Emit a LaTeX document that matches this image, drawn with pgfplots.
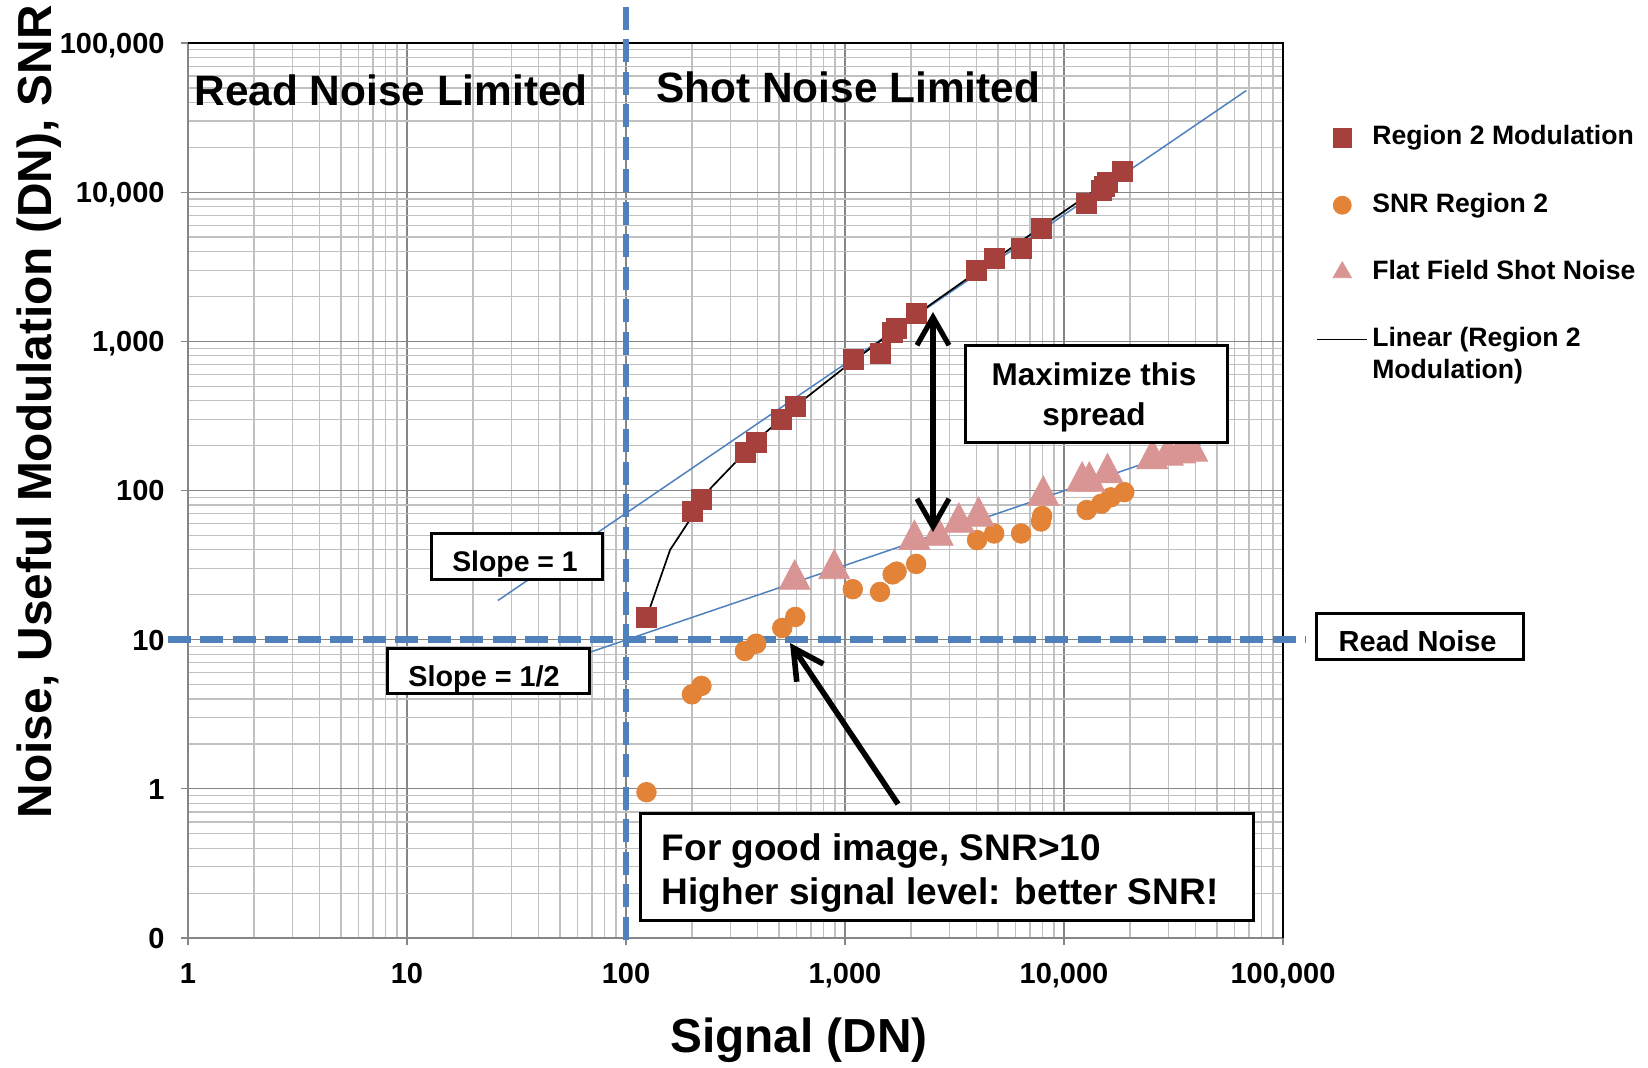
\documentclass[border=0pt]{standalone}
\usepackage{fontspec}
\setmainfont{Liberation Sans}
\usepackage{pgfplots}
\pgfplotsset{compat=1.18}
\usetikzlibrary{arrows.meta}

\definecolor{redsq}{RGB}{166,64,61}
\definecolor{orng}{RGB}{226,131,56}
\definecolor{tri}{RGB}{217,149,148}
\definecolor{xlblue}{RGB}{79,129,189}
\definecolor{gridmin}{RGB}{192,192,192}
\definecolor{gridmaj}{RGB}{134,134,134}
\definecolor{axgray}{RGB}{134,134,134}

\begin{document}
\begin{tikzpicture}
\begin{axis}[
    xmode=log, ymode=log,
    scale only axis,
    width=547.5pt, height=447.5pt,
    xmin=1, xmax=100000, ymin=0.1, ymax=100000,
    xtick={1,10,100,1000,10000,100000},
    xticklabels={1,10,100,{1,000},{10,000},{100,000}},
    ytick={0.1,1,10,100,1000,10000,100000},
    yticklabels={0,1,10,100,{1,000},{10,000},{100,000}},
    minor xtick={2,3,4,5,6,7,8,9,20,30,40,50,60,70,80,90,200,300,400,500,600,700,800,900,2000,3000,4000,5000,6000,7000,8000,9000,20000,30000,40000,50000,60000,70000,80000,90000},
    minor ytick={0.2,0.3,0.4,0.5,0.6,0.7,0.8,0.9,2,3,4,5,6,7,8,9,20,30,40,50,60,70,80,90,200,300,400,500,600,700,800,900,2000,3000,4000,5000,6000,7000,8000,9000,20000,30000,40000,50000,60000,70000,80000,90000},
    grid=both,
    major grid style={draw=gridmaj, line width=0.6pt},
    minor grid style={draw=gridmin, line width=0.6pt},
    axis line style={draw=axgray, line width=1.3pt},
    tick align=outside,
    major tick length=3.75pt, minor tick length=0pt,
    xtick pos=bottom, ytick pos=left,
    tick style={draw=axgray, line width=0.6pt},
    /pgf/number format/assume math mode=true,
    tick label style={font=\fontsize{14.5}{16}\selectfont\bfseries, inner sep=0pt},
    xticklabel style={anchor=base, yshift=-18.9pt},
    yticklabel style={anchor=base east, xshift=-7.75pt, yshift=-5.2pt},
    xlabel={Signal (DN)},
    ylabel={Noise, Useful Modulation (DN), SNR},
    label style={font=\fontsize{23.9}{26}\selectfont\bfseries, inner sep=0pt},
    xlabel style={at={(axis description cs:0.558,-0.128)}, anchor=base},
    ylabel style={at={(axis description cs:-0.1242,0.588)}, anchor=base},
    clip=false,
    legend cell align=left,
    legend image code/.code={\draw[mark repeat=2,mark phase=2,#1] plot coordinates {(0pt,0pt) (12.5pt,0pt) (25pt,0pt)};},
    legend style={draw=none, fill=none, at={(0,1)}, anchor=north west,
        xshift=561pt, yshift=-39.3pt,
        font=\fontsize{13.3}{14.2}\selectfont\bfseries,
        inner xsep=3pt, inner ysep=2pt,
        nodes={inner sep=2pt, text height=0.75em, text depth=0.05em},
        row sep=21.6pt, /tikz/column sep=0.1pt},
]
\coordinate (axTL) at (rel axis cs:0,1);

% Region 2 Modulation
\addplot[forget plot, only marks, mark=square*, mark size=5pt,
    mark options={fill=redsq, draw=redsq}] coordinates {
(124,14.2) (200,73) (221,87) (350,180) (392,211) (515,300) (593,365)
(1090,760) (1448,830) (1650,1140) (1710,1220) (2115,1535) (4000,3000)
(4810,3600) (6380,4200) (7850,5700) (12680,8450) (14800,10200)
(15300,10900) (15800,11700) (18400,13700)
};

% SNR Region 2
\addplot[forget plot, only marks, mark=*, mark size=4.9pt,
    mark options={fill=orng, draw=orng}] coordinates {
(124,0.95) (200,4.3) (221,4.9) (349,8.4) (393,9.4) (517,12.0) (593,14.2)
(1085,21.8) (1445,20.9) (1650,27.4) (1720,28.6) (2113,32.2) (4008,46.5)
(4800,51.5) (6370,51.5) (7850,62) (7950,67.5) (12700,74) (14800,81.5)
(16360,90) (18850,97.5)
};

% Flat Field Shot Noise
\addplot[forget plot, only marks, mark=triangle*, mark size=8.9pt,
    mark options={fill=tri, draw=tri, yscale=1.1}] coordinates {
(589,25.3) (893,29.8) (2075,46.8) (2650,49.9) (3310,61) (4075,67)
(8040,92.5) (12100,115) (13050,115) (15800,131) (25300,163)
(29800,172) (34000,178) (38500,183)
};

% slope guide lines
\addplot[forget plot, xlblue, line width=0.75pt] coordinates {(26,18.3) (68000,48000)};
\addplot[forget plot, xlblue, line width=0.75pt] coordinates {(40,6.3) (42000,204)};

% Linear trend of Region 2 Modulation
\addplot[forget plot, black, line width=0.85pt] coordinates {
(124,14) (159,40) (244,104) (400,221) (655,412) (1000,671) (1600,1121)
(2500,1796) (4000,2921) (6500,4796) (10000,7421) (14000,10421) (18800,14020)
};

\addlegendimage{only marks, mark=square*, mark size=4.6pt, mark options={fill=redsq, draw=redsq}}
\addlegendentry{Region 2 Modulation}
\addlegendimage{only marks, mark=*, mark size=4.5pt, mark options={fill=orng, draw=orng}}
\addlegendentry{SNR Region 2}
\addlegendimage{only marks, mark=triangle*, mark size=5.3pt, mark options={fill=tri, draw=tri}}
\addlegendentry{Flat Field Shot Noise}
\addlegendimage{black, line width=0.85pt}
\addlegendentry{\begin{tabular}[t]{@{}l@{}}Linear (Region 2\tabularnewline[1.5pt] Modulation)\end{tabular}}

\draw[black, line width=1.35pt] (rel axis cs:0,1) -- (rel axis cs:1,1) -- (rel axis cs:1,0);

% read noise and shot noise limits
\addplot[forget plot, xlblue, line width=3.25pt, dash pattern=on 11.5pt off 4.75pt]
    coordinates {(100,175000) (100,0.09)};
\addplot[forget plot, xlblue, line width=3.25pt, dash pattern=on 11.5pt off 4.75pt]
    coordinates {(0.81,10) (127000,10)};
\end{axis}

\begin{scope}[shift={([xshift=-94pt,yshift=21.5pt]axTL)}, x=0.5pt, y=-0.5pt]
  \node[anchor=base west, inner sep=0pt, font=\fontsize{21.2}{24}\selectfont\bfseries]
    at (194,106) {Read Noise Limited};
  \node[anchor=base west, inner sep=0pt, font=\fontsize{21.2}{24}\selectfont\bfseries]
    at (656,103) {Shot Noise Limited};

  \draw[line width=1.5pt, fill=white] (965,346) rectangle (1227.5,442);
  \node[anchor=base, inner sep=0pt, font=\fontsize{15.75}{18}\selectfont\bfseries]
    at (1094,386) {Maximize this};
  \node[anchor=base, inner sep=0pt, font=\fontsize{15.75}{18}\selectfont\bfseries]
    at (1094,425.7) {spread};

  \draw[line width=1.5pt, fill=white] (431.7,533.3) rectangle (602.7,579.3);
  \node[anchor=base, inner sep=0pt, font=\fontsize{14.2}{16}\selectfont\bfseries]
    at (515,571.7) {Slope = 1};

  \draw[line width=1.5pt, fill=white] (387.3,648.3) rectangle (589.3,693.3);
  \node[anchor=base, inner sep=0pt, font=\fontsize{14.4}{16}\selectfont\bfseries]
    at (484,686.7) {Slope = 1/2};

  \draw[line width=1.5pt, fill=white] (1316.7,613.3) rectangle (1523.3,659.3);
  \node[anchor=base west, inner sep=0pt, font=\fontsize{14.5}{16}\selectfont\bfseries]
    at (1338.3,651.7) {Read Noise};

  \draw[line width=1.5pt, fill=white] (640,813.3) rectangle (1253,920);
  \node[anchor=base west, inner sep=0pt, font=\fontsize{18.5}{21}\selectfont\bfseries]
    at (661.5,860) {For good image, SNR>10};
  \node[anchor=base west, inner sep=0pt, font=\fontsize{18.5}{21}\selectfont\bfseries]
    at (661.5,904) {Higher signal level: better SNR!};

  \draw[line width=2.6pt, {Straight Barb[length=14pt,width=16pt]}-{Straight Barb[length=14pt,width=16pt]}]
    (933,312) -- (933,532);
  \draw[line width=2.8pt, -{Straight Barb[length=15pt,width=16pt]}] (898,804) -- (790,643);

  \pgfresetboundingbox
  \useasboundingbox (0,0) rectangle (1648,1067);
\end{scope}
\end{tikzpicture}
\end{document}
